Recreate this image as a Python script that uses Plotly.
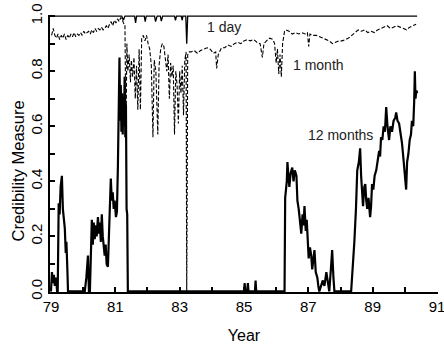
import plotly.graph_objects as go

# 1 day credibility (solid thin line)
day_x = [79.0, 81.2, 81.25, 81.3, 81.6, 81.63, 81.66, 81.7, 81.9, 81.93, 81.96, 82.22, 82.25, 82.3,
         82.4, 82.43, 82.47, 82.84, 82.87, 82.9, 83.05, 83.08, 83.1, 83.19, 83.22, 83.25, 90.38]
day_y = [1.0, 1.0, 0.985, 1.0, 1.0, 0.975, 1.0, 1.0, 1.0, 0.98, 1.0, 1.0, 0.98, 1.0,
         1.0, 0.982, 1.0, 1.0, 0.985, 1.0, 1.0, 0.985, 1.0, 1.0, 0.90, 1.0, 1.0]

# 1 month credibility (dashed line)
month_x = [79.02, 79.07, 79.12, 79.17, 79.22, 79.27, 79.32, 79.37, 79.42, 79.47, 79.52, 79.57, 79.62,
           79.67, 79.72, 79.77, 79.82, 79.87, 79.92, 79.97, 80.02, 80.07, 80.12, 80.17, 80.22, 80.27,
           80.32, 80.37, 80.42, 80.47, 80.52, 80.57, 80.62, 80.67, 80.72, 80.77, 80.82, 80.87, 80.92,
           80.97, 81.02, 81.07, 81.12, 81.17, 81.22, 81.27,
           81.30, 81.33, 81.36, 81.39, 81.43, 81.47, 81.50, 81.54, 81.58, 81.62, 81.66, 81.70, 81.74,
           81.78, 81.82, 81.87, 81.92, 81.97, 82.02, 82.07, 82.12, 82.17, 82.21, 82.26, 82.32, 82.36,
           82.41, 82.46, 82.51, 82.56, 82.60, 82.64, 82.68, 82.72, 82.76, 82.80, 82.84, 82.88, 82.92,
           82.96, 83.00, 83.04, 83.08, 83.12, 83.16, 83.20, 83.22, 83.25, 83.30,
           83.35, 83.45, 83.55, 83.65, 83.75, 83.85, 83.95, 84.05, 84.12, 84.15, 84.2, 84.3, 84.4,
           84.5, 84.6, 84.7, 84.8, 84.9, 85.0, 85.1, 85.2, 85.3, 85.4, 85.5, 85.57, 85.62, 85.7,
           85.8, 85.9, 85.95, 86.0, 86.04, 86.08, 86.12, 86.16, 86.2, 86.26, 86.3, 86.4, 86.5, 86.6,
           86.7, 86.8, 86.9, 86.97, 87.01, 87.05, 87.15, 87.25, 87.35, 87.45, 87.55, 87.65, 87.75,
           87.85, 87.95, 88.05, 88.15, 88.25, 88.35, 88.45, 88.55, 88.65, 88.75, 88.85, 88.95, 89.05,
           89.15, 89.25, 89.35, 89.45, 89.55, 89.65, 89.75, 89.85, 89.95, 90.05, 90.15, 90.25, 90.35]
month_y = [0.93, 0.955, 0.93, 0.92, 0.935, 0.915, 0.93, 0.92, 0.935, 0.915, 0.93, 0.92, 0.935,
           0.925, 0.94, 0.925, 0.935, 0.93, 0.94, 0.93, 0.945, 0.935, 0.94, 0.945, 0.935, 0.95,
           0.94, 0.955, 0.945, 0.955, 0.95, 0.96, 0.95, 0.955, 0.965, 0.955, 0.97, 0.98, 0.965,
           0.985, 0.975, 0.99, 0.98, 0.995, 0.985, 0.97,
           0.97, 0.55, 0.90, 0.80, 0.86, 0.76, 0.84, 0.78, 0.85, 0.70, 0.82, 0.66, 0.88,
           0.66, 0.92, 0.93, 0.91, 0.93, 0.90, 0.88, 0.82, 0.56, 0.84, 0.80, 0.57, 0.82,
           0.88, 0.90, 0.89, 0.85, 0.80, 0.86, 0.70, 0.83, 0.78, 0.82, 0.57, 0.80, 0.75,
           0.61, 0.80, 0.72, 0.82, 0.64, 0.84, 0.87, 0.0, 0.86, 0.87,
           0.87, 0.875, 0.865, 0.875, 0.88, 0.885, 0.88, 0.865, 0.87, 0.81, 0.86, 0.885, 0.885,
           0.895, 0.89, 0.90, 0.905, 0.90, 0.91, 0.915, 0.91, 0.915, 0.905, 0.90, 0.85, 0.90, 0.91,
           0.92, 0.915, 0.90, 0.83, 0.88, 0.79, 0.86, 0.78, 0.90, 0.945, 0.95, 0.945, 0.935, 0.94,
           0.935, 0.94, 0.935, 0.94, 0.89, 0.935, 0.93, 0.93, 0.925, 0.92, 0.915, 0.91, 0.90,
           0.905, 0.91, 0.91, 0.915, 0.92, 0.93, 0.94, 0.95, 0.945, 0.95, 0.94, 0.945, 0.94,
           0.95, 0.955, 0.96, 0.965, 0.955, 0.96, 0.965, 0.96, 0.955, 0.95, 0.96, 0.965, 0.97]

# 12 months credibility (solid thick line)
year_x = [79.00, 79.03, 79.06, 79.09, 79.12, 79.16, 79.19, 79.21, 79.24, 79.27, 79.30, 79.34, 79.37,
          79.40, 79.43, 79.46, 79.48, 79.51, 79.53, 80.05, 80.10, 80.15, 80.18, 80.21, 80.24, 80.27,
          80.30, 80.33, 80.36, 80.39, 80.42, 80.46, 80.49, 80.52, 80.55, 80.58, 80.61, 80.64, 80.67,
          80.70, 80.73, 80.77, 80.80, 80.83, 80.86, 80.89, 80.92, 80.95, 80.98, 81.02, 81.05, 81.08,
          81.11, 81.13, 81.15, 81.17, 81.19, 81.21, 81.23, 81.25, 81.27, 81.29, 81.31, 81.33, 81.35,
          81.37, 81.39, 85.0, 85.02, 85.04, 85.1, 85.12, 85.14, 85.34, 85.36, 85.38,
          86.26, 86.28, 86.33, 86.35, 86.38, 86.41, 86.45, 86.50, 86.54, 86.58, 86.63, 86.66, 86.70,
          86.74, 86.78, 86.82, 86.85, 86.88, 86.92, 86.95, 86.97, 87.01, 87.05, 87.09, 87.12, 87.16,
          87.19, 87.23, 87.28, 87.31, 87.34, 87.45, 87.50, 87.56, 87.60, 87.65, 87.70, 87.74, 87.78,
          87.81, 88.33, 88.38, 88.43, 88.48, 88.52, 88.57, 88.61, 88.64, 88.67, 88.70, 88.74, 88.77,
          88.80, 88.83, 88.87, 88.92, 88.95, 88.98, 89.02, 89.06, 89.11, 89.15, 89.20, 89.23, 89.26,
          89.30, 89.34, 89.38, 89.42, 89.46, 89.51, 89.55, 89.60, 89.65, 89.70, 89.73, 89.77, 89.82,
          89.86, 89.91, 89.95, 90.00, 90.04, 90.07, 90.11, 90.15, 90.19, 90.22, 90.26, 90.29, 90.31,
          90.33, 90.36, 90.38]
year_y = [0.0, 0.07, 0.03, 0.06, 0.02, 0.05, 0.0, 0.0, 0.32, 0.28, 0.38, 0.42, 0.30,
          0.25, 0.23, 0.14, 0.18, 0.08, 0.0, 0.0, 0.05, 0.13, 0.0, 0.0, 0.12, 0.26,
          0.17, 0.25, 0.19, 0.24, 0.20, 0.27, 0.21, 0.25, 0.18, 0.28, 0.20, 0.15, 0.13,
          0.17, 0.10, 0.09, 0.20, 0.30, 0.41, 0.33, 0.36, 0.30, 0.33, 0.27, 0.29, 0.45,
          0.62, 0.85, 0.62, 0.75, 0.58, 0.72, 0.57, 0.70, 0.60, 0.78, 0.56, 0.68, 0.30,
          0.28, 0.0, 0.0, 0.03, 0.0, 0.0, 0.03, 0.0, 0.0, 0.04, 0.0,
          0.0, 0.34, 0.40, 0.47, 0.42, 0.38, 0.43, 0.45, 0.40, 0.44, 0.42, 0.33, 0.30,
          0.25, 0.21, 0.28, 0.24, 0.31, 0.22, 0.26, 0.22, 0.12, 0.16, 0.13, 0.08, 0.12,
          0.15, 0.07, 0.05, 0.02, 0.0, 0.04, 0.02, 0.07, 0.03, 0.0, 0.08, 0.15, 0.05,
          0.0, 0.0, 0.08, 0.18, 0.30, 0.44, 0.47, 0.52, 0.42, 0.36, 0.31, 0.38, 0.39,
          0.33, 0.30, 0.34, 0.27, 0.31, 0.39, 0.37, 0.42, 0.44, 0.48, 0.51, 0.49, 0.56,
          0.55, 0.60, 0.58, 0.67, 0.60, 0.55, 0.60, 0.58, 0.62, 0.63, 0.65, 0.62, 0.61,
          0.58, 0.54, 0.49, 0.43, 0.37, 0.47, 0.50, 0.55, 0.57, 0.62, 0.60, 0.69, 0.80,
          0.70, 0.73, 0.72]

x_ticks = list(range(79, 92))
x_labels = [str(t) if t % 2 == 1 else "" for t in x_ticks]

font = "Liberation Sans, Arial, sans-serif"

fig = go.Figure()
fig.add_trace(go.Scatter(x=day_x, y=day_y, mode="lines",
                         line=dict(color="black", width=1.3)))
fig.add_trace(go.Scatter(x=month_x, y=month_y, mode="lines",
                         line=dict(color="black", width=1.1, dash="4px,2px")))
fig.add_trace(go.Scatter(x=year_x, y=year_y, mode="lines",
                         line=dict(color="black", width=2.2)))

fig.add_annotation(x=84.37, y=0.96, text="1 day", showarrow=False,
                   font=dict(family=font, size=14, color="#222"))
fig.add_annotation(x=87.31, y=0.823, text="1 month", showarrow=False,
                   font=dict(family=font, size=14, color="#222"))
fig.add_annotation(x=88.0, y=0.567, text="12 months", showarrow=False,
                   font=dict(family=font, size=14, color="#222"))
# y title placed by hand, it sits below the axis centre in the original
fig.add_annotation(xref="paper", yref="paper", x=-0.085, y=0.435, textangle=-90,
                   text="Credibility Measure", showarrow=False,
                   xanchor="center", yanchor="middle",
                   font=dict(family=font, size=16.5, color="black"))

fig.update_layout(
    width=444, height=349,
    margin=dict(l=50, r=6, t=15, b=57),
    plot_bgcolor="white", paper_bgcolor="white",
    showlegend=False,
    font=dict(family=font, color="black", size=15),
    xaxis=dict(range=[78.97, 91.03], tickvals=x_ticks, ticktext=x_labels,
               ticks="inside", ticklen=5, tickwidth=1.5, tickcolor="black",
               showline=True, linecolor="black", linewidth=2, showgrid=False,
               zeroline=False, tickfont=dict(size=15), automargin=False,
               ticklabeloverflow="allow",
               title=dict(text="Year", standoff=16, font=dict(size=16))),
    yaxis=dict(range=[-0.002, 1.004], tickvals=[0, 0.2, 0.4, 0.6, 0.8, 1.0],
               ticktext=["0.0", "0.2", "0.4", "0.6", "0.8", "1.0"], tickangle=-90,
               ticks="inside", ticklen=5, tickwidth=1.5, tickcolor="black",
               minor=dict(tickvals=[0.1, 0.3, 0.5, 0.7, 0.9], ticks="inside", ticklen=5,
                          tickcolor="black", tickwidth=1.5),
               showline=True, linecolor="black", linewidth=2, showgrid=False,
               zeroline=False, tickfont=dict(size=15), automargin=False,
               ticklabeloverflow="allow"),
)

# drop the default page margin so the figure fills the window exactly
fig.write_html("out.html", config={"displayModeBar": False},
               post_script="document.body.style.margin='0';")
